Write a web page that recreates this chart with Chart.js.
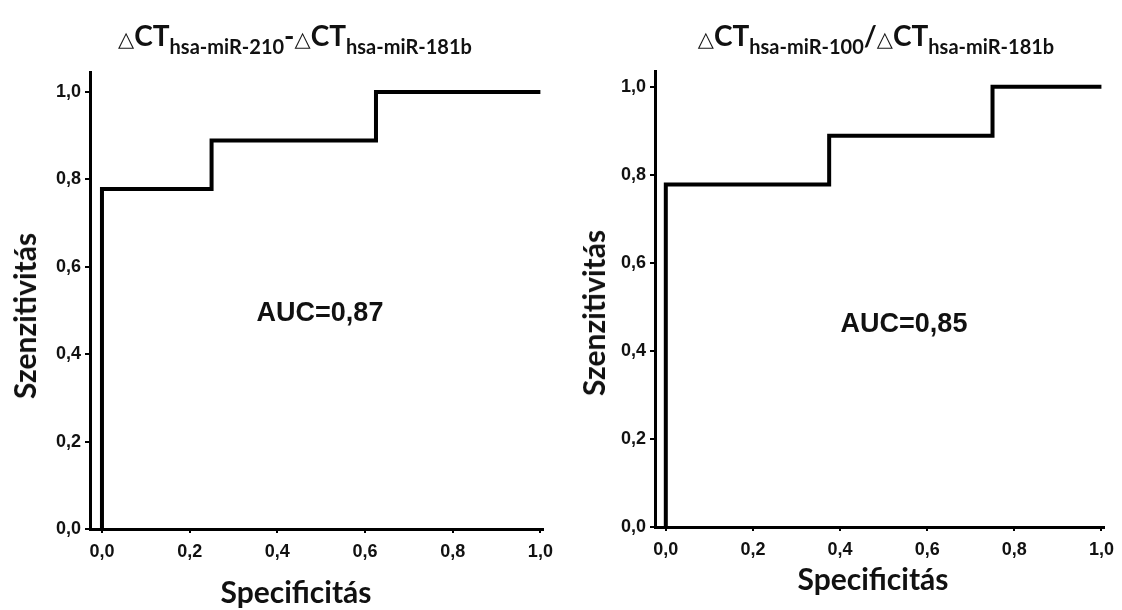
<!DOCTYPE html>
<html><head><meta charset="utf-8">
<script src="https://cdn.jsdelivr.net/npm/chart.js@4.4.1/dist/chart.umd.min.js"></script>
<style>
html,body{margin:0;padding:0;background:#fff;}
#wrap{position:relative;width:1122px;height:610px;overflow:hidden;background:#fff;}
canvas{position:absolute;top:0;}
.t{position:absolute;font-family:Lato,'Open Sans',sans-serif;font-weight:700;color:#111;white-space:nowrap;}
.title{font-size:28px;line-height:30px;text-align:center;}
.title .tri{font-family:'DejaVu Sans',sans-serif;font-weight:400;font-size:21px;}
.title .sb{font-size:20px;vertical-align:-8px;}
.ax{font-size:30px;line-height:30px;transform:translate(-50%,-50%);}
.axv{font-size:30px;line-height:30px;transform:translate(-50%,-50%) rotate(-90deg);}
.auc{font-family:'Liberation Sans',Arial,sans-serif;font-size:27px;line-height:27px;transform:translate(-50%,-50%);color:#111;}
</style></head>
<body>
<div id="wrap">
  <canvas id="c1" width="561" height="610" style="left:0;width:561px;height:610px"></canvas>
  <canvas id="c2" width="561" height="610" style="left:561px;width:561px;height:610px"></canvas>
  <div class="t title" style="left:0;width:590px;top:20px"><span class="tri">△</span>CT<span class="sb">hsa-miR-210</span>-<span class="tri">△</span>CT<span class="sb">hsa-miR-181b</span></div>
  <div class="t title" style="left:576px;width:600px;top:20px"><span class="tri">△</span>CT<span class="sb">hsa-miR-100</span>/<span class="tri">△</span>CT<span class="sb">hsa-miR-181b</span></div>
  <div class="t axv" style="left:24px;top:316px">Szenzitivitás</div>
  <div class="t axv" style="left:593px;top:313px">Szenzitivitás</div>
  <div class="t ax" style="left:296px;top:591px">Specificitás</div>
  <div class="t ax" style="left:873px;top:578px">Specificitás</div>
  <div class="t auc" style="left:320px;top:312px">AUC=0,87</div>
  <div class="t auc" style="left:904px;top:323px">AUC=0,85</div>
</div>
<script>
// ---- data ----
const leftSpecificity  = [0, 0, 0.25, 0.25, 0.625, 0.625, 1.0];
const leftSensitivity  = [0, 0.778, 0.778, 0.889, 0.889, 1.0, 1.0];
const rightSpecificity = [0, 0, 0.375, 0.375, 0.75, 0.75, 1.0];
const rightSensitivity = [0, 0.778, 0.778, 0.889, 0.889, 1.0, 1.0];
const tickValues = [0, 0.2, 0.4, 0.6, 0.8, 1.0];
const tickLabels = ['0,0', '0,2', '0,4', '0,6', '0,8', '1,0'];

const tickFont = {family: "'Liberation Sans', Arial, sans-serif", weight: 'bold', size: 18};

function setTicks(scale) {
  scale.ticks = tickValues.map(v => ({value: v}));
}
function labelFor(value) {
  const i = tickValues.findIndex(v => Math.abs(v - value) < 1e-9);
  return i >= 0 ? tickLabels[i] : '';
}

function makeChart(id, xs, ys, o) {
  const pts = xs.map((x, i) => ({x: x, y: ys[i]}));
  return new Chart(document.getElementById(id), {
    type: 'scatter',
    data: {datasets: [{
      data: pts, showLine: true, borderColor: '#000', borderWidth: 4,
      pointRadius: 0, pointHoverRadius: 0, fill: false, clip: false,
      borderJoinStyle: 'miter', borderCapStyle: 'butt', tension: 0
    }]},
    options: {
      responsive: false, animation: false, devicePixelRatio: 1,
      layout: {padding: {top: o.top, right: o.right, left: 0, bottom: 0}},
      plugins: {legend: {display: false}, tooltip: {enabled: false}, title: {display: false}},
      events: [],
      scales: {
        x: {
          type: 'linear', min: o.xmin, max: o.xmax,
          afterBuildTicks: setTicks,
          afterFit: s => { s.height = o.xh; },
          ticks: {callback: v => labelFor(v), font: tickFont, color: '#111', padding: 8, maxRotation: 0, autoSkip: false},
          grid: {display: true, drawOnChartArea: false, drawTicks: true, tickLength: 4, color: '#000', lineWidth: 2},
          border: {display: true, color: '#000', width: 3}
        },
        y: {
          type: 'linear', min: 0, max: o.ymax,
          afterBuildTicks: setTicks,
          afterFit: s => { s.width = o.yw; },
          ticks: {callback: v => labelFor(v), font: tickFont, color: '#111', padding: 4, autoSkip: false},
          grid: {display: true, drawOnChartArea: false, drawTicks: true, tickLength: 5, color: '#000', lineWidth: 2},
          border: {display: true, color: '#000', width: 3}
        }
      }
    }
  });
}

makeChart('c1', leftSpecificity, leftSensitivity,
  {top: 72, right: 16, xmin: -0.0273, xmax: 1.0068, ymax: 1.0458, yw: 90, xh: 81});
makeChart('c2', rightSpecificity, rightSensitivity,
  {top: 71, right: 9, xmin: -0.0248, xmax: 1.007, ymax: 1.036, yw: 94, xh: 83});
</script>
</body></html>
